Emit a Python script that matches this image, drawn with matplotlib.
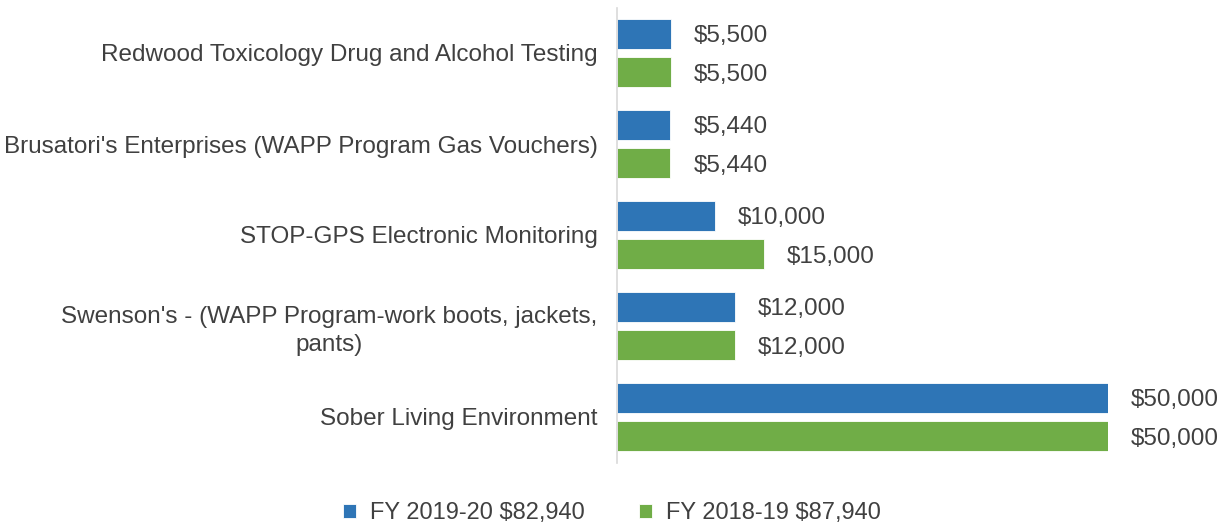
import matplotlib.pyplot as plt
import numpy as np

plt.rcParams['font.family'] = ['Liberation Sans', 'DejaVu Sans']

categories = [
    'Redwood Toxicology Drug and Alcohol Testing',
    "Brusatori's Enterprises (WAPP Program Gas Vouchers)",
    'STOP-GPS Electronic Monitoring',
    "Swenson's - (WAPP Program-work boots, jackets,\npants)",
    'Sober Living Environment',
]
fy_2019_20 = [5500, 5440, 10000, 12000, 50000]
fy_2018_19 = [5500, 5440, 15000, 12000, 50000]
legend_labels = ['FY 2019-20 $82,940', 'FY 2018-19 $87,940']

blue = '#2E75B6'
green = '#70AD47'
text_color = '#404040'

fig = plt.figure(figsize=(12.28, 5.24), dpi=100)
ax = fig.add_axes([617 / 1228, 1 - 462.5 / 524, (1108 - 617) / 1228, 455 / 524])

y = np.arange(len(categories))
h = 0.33
off = 0.214
b1 = ax.barh(y - off, fy_2019_20, height=h, color=blue, edgecolor='white', linewidth=0.6,
             label=legend_labels[0])
b2 = ax.barh(y + off, fy_2018_19, height=h, color=green, edgecolor='white', linewidth=0.6,
             label=legend_labels[1])

for bars, vals in [(b1, fy_2019_20), (b2, fy_2018_19)]:
    for bar, v in zip(bars, vals):
        ax.annotate('${:,}'.format(v), xy=(v, bar.get_y() + bar.get_height() / 2),
                    xytext=(16.5, -1.5), textcoords='offset points', va='center', ha='left',
                    fontsize=17.5, color=text_color)

ax.set_xlim(0, 50000)
ax.set_ylim(len(categories) - 0.5, -0.5)
ax.set_yticks(y)
ax.set_yticklabels(categories, fontsize=17.5, color=text_color, multialignment='center',
                   linespacing=1.35)
ax.tick_params(axis='y', length=0, pad=14)
ax.set_xticks([])
for s in ['top', 'right', 'bottom']:
    ax.spines[s].set_visible(False)
ax.spines['left'].set_color('#D9D9D9')
ax.spines['left'].set_linewidth(1.2)

fig.legend(handles=[b1, b2], labels=legend_labels, loc='center', bbox_to_anchor=(612 / 1228, 1 - 513 / 524),
           ncol=2, frameon=False, fontsize=17, labelcolor=text_color, handlelength=0.55, handleheight=0.55,
           handletextpad=0.6, columnspacing=2.3)

fig.savefig('out.png', dpi=100)
